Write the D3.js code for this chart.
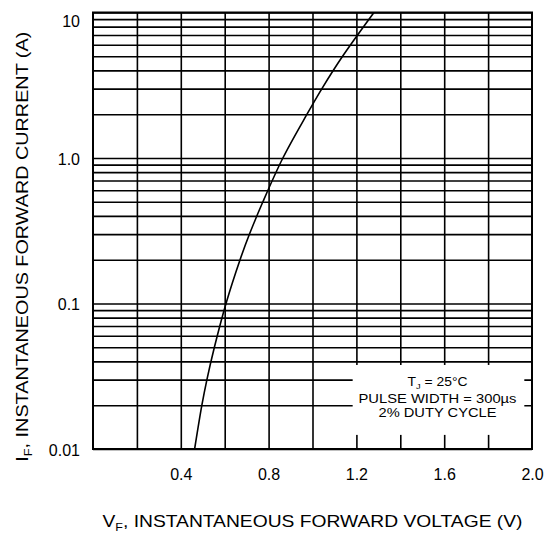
<!DOCTYPE html>
<html>
<head>
<meta charset="utf-8">
<script src="https://cdn.jsdelivr.net/npm/d3@7"></script>
<style>
  body { margin: 0; background: #fff; }
  text { font-family: "Liberation Sans", Arial, sans-serif; fill: #000; }
</style>
</head>
<body>
<div id="svg_area"></div>
<script>
// Instantaneous forward current (A) and forward voltage (V)
var current = [0.01, 0.02, 0.03, 0.05, 0.1, 0.2, 0.3, 0.5, 1, 2, 3, 5, 10];
var voltage = [0.463, 0.496, 0.519, 0.553, 0.606, 0.670, 0.713, 0.774, 0.865, 0.975, 1.043, 1.137, 1.28];

// Tick values and labels
var xTicks = [0.4, 0.8, 1.2, 1.6, 2.0];
var xTickLabels = ["0.4", "0.8", "1.2", "1.6", "2.0"];
var yTicks = [0.01, 0.1, 1, 10];
var yTickLabels = ["0.01", "0.1", "1.0", "10"];

// Test conditions note
var noteLines = ["PULSE WIDTH = 300µs", "2% DUTY CYCLE"];

// Define SVG area dimensions
var svgWidth = 547;
var svgHeight = 536;

var margin = {
  top: 12.5,
  right: 15,
  bottom: 87,
  left: 93
};

var chartWidth = svgWidth - margin.left - margin.right;
var chartHeight = svgHeight - margin.top - margin.bottom;

var svg = d3.select("#svg_area")
  .append("svg")
  .attr("width", svgWidth)
  .attr("height", svgHeight);

var chartGroup = svg.append("g")
  .attr("transform", `translate(${margin.left}, ${margin.top})`);

var xScale = d3.scaleLinear()
  .domain([0, 2.0])
  .range([0, chartWidth]);

var yScale = d3.scaleLog()
  .domain([0.01, 10])
  .range([chartHeight, 0]);

// vertical grid every 0.2 V
chartGroup.append("g")
  .attr("transform", `translate(0, ${chartHeight})`)
  .call(d3.axisBottom(xScale).tickValues(d3.range(0.2, 2.0, 0.2)).tickSize(chartHeight).tickFormat(""))
  .call(g => g.select(".domain").remove())
  .call(g => g.selectAll("line")
    .attr("transform", `translate(0, ${-chartHeight})`)
    .attr("stroke", "#000")
    .attr("stroke-width", 1.6));

// horizontal log grid
chartGroup.append("g")
  .call(d3.axisLeft(yScale).tickValues(yScale.ticks()).tickSize(-chartWidth).tickFormat(""))
  .call(g => g.select(".domain").remove())
  .call(g => g.selectAll("line")
    .attr("stroke", "#000")
    .attr("stroke-width", 1.6));

// frame
chartGroup.append("rect")
  .attr("width", chartWidth)
  .attr("height", chartHeight)
  .attr("fill", "none")
  .attr("stroke", "#000")
  .attr("stroke-width", 2);

// note box, white over the grid
var noteX0 = xScale(1.183), noteX1 = xScale(1.965);
var noteY0 = yScale(0.0378), noteY1 = yScale(0.0125);
chartGroup.append("rect")
  .attr("x", noteX0)
  .attr("y", noteY0)
  .attr("width", noteX1 - noteX0)
  .attr("height", noteY1 - noteY0)
  .attr("fill", "#fff");

var noteCx = (noteX0 + noteX1) / 2 - 1;
var tj = chartGroup.append("text")
  .attr("x", noteCx)
  .attr("y", noteY0 + 21)
  .attr("text-anchor", "middle")
  .attr("font-size", "12px")
  .attr("textLength", 60)
  .attr("lengthAdjust", "spacingAndGlyphs");
tj.append("tspan").text("T");
tj.append("tspan").attr("font-size", "8px").attr("dy", 3).text("J");
tj.append("tspan").attr("dy", -3).text(" = 25°C");

chartGroup.selectAll(".note")
  .data(noteLines)
  .enter()
  .append("text")
  .attr("class", "note")
  .attr("x", noteCx)
  .attr("y", (d, i) => noteY0 + 38 + i * 14)
  .attr("text-anchor", "middle")
  .attr("font-size", "12px")
  .attr("textLength", (d, i) => i === 0 ? 158 : 118)
  .attr("lengthAdjust", "spacingAndGlyphs")
  .text(d => d);

// forward characteristic curve
var curveData = voltage.map((v, i) => ({v: v, i: current[i]}));
var line = d3.line()
  .x(d => xScale(d.v))
  .y(d => yScale(d.i))
  .curve(d3.curveCatmullRom);

chartGroup.append("path")
  .datum(curveData)
  .attr("d", line)
  .attr("fill", "none")
  .attr("stroke", "#000")
  .attr("stroke-width", 1.6);

// tick labels
chartGroup.append("g")
  .attr("transform", `translate(0, ${chartHeight})`)
  .call(d3.axisBottom(xScale).tickValues(xTicks).tickSize(0).tickPadding(20)
    .tickFormat((d, i) => xTickLabels[i]))
  .call(g => g.select(".domain").remove())
  .call(g => g.selectAll("text")
    .attr("font-size", "16px")
    .attr("font-family", "Liberation Sans, Arial, sans-serif")
    .attr("fill", "#000"));

chartGroup.append("g")
  .call(d3.axisLeft(yScale).tickValues(yTicks).tickSize(0).tickPadding(13)
    .tickFormat((d, i) => yTickLabels[i]))
  .call(g => g.select(".domain").remove())
  .call(g => g.selectAll("text")
    .attr("font-size", "16px")
    .attr("font-family", "Liberation Sans, Arial, sans-serif")
    .attr("fill", "#000")
    .attr("dy", d => d === 10 ? "0.85em" : "0.4em"));

// axis titles
var xTitle = chartGroup.append("text")
  .attr("x", chartWidth / 2)
  .attr("y", chartHeight + 78)
  .attr("text-anchor", "middle")
  .attr("font-size", "17px")
  .attr("textLength", 420)
  .attr("lengthAdjust", "spacingAndGlyphs");
xTitle.append("tspan").text("V");
xTitle.append("tspan").attr("font-size", "11px").attr("dy", 4).text("F");
xTitle.append("tspan").attr("dy", -4).text(", INSTANTANEOUS FORWARD VOLTAGE (V)");

var yTitle = chartGroup.append("text")
  .attr("transform", "rotate(-90)")
  .attr("x", -(chartHeight / 2) - 16)
  .attr("y", 28 - margin.left)
  .attr("text-anchor", "middle")
  .attr("font-size", "17px")
  .attr("textLength", 430)
  .attr("lengthAdjust", "spacingAndGlyphs");
yTitle.append("tspan").text("I");
yTitle.append("tspan").attr("font-size", "11px").attr("dy", 4).text("F");
yTitle.append("tspan").attr("dy", -4).text(", INSTANTANEOUS FORWARD CURRENT (A)");
</script>
</body>
</html>
